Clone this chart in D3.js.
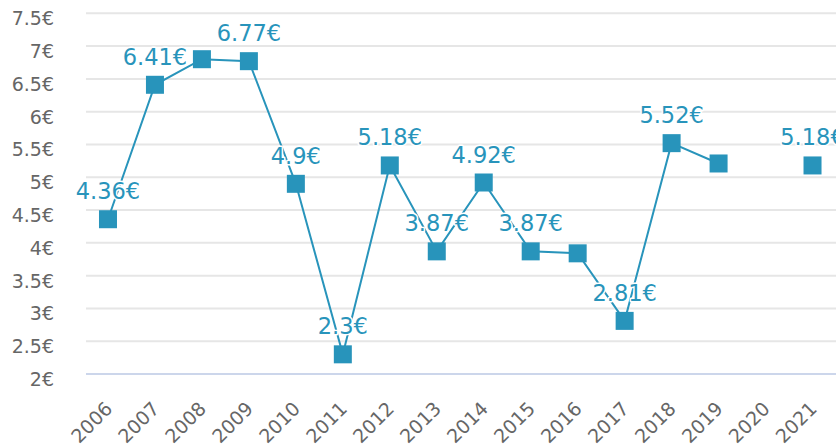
<!DOCTYPE html>
<html>
<head>
<meta charset="utf-8">
<script src="https://cdn.jsdelivr.net/npm/d3@7"></script>
<style>
  html, body { margin: 0; padding: 0; background: #fff; }
  svg { display: block; font-family: "DejaVu Sans", Verdana, sans-serif; }
</style>
</head>
<body>
<svg id="chart" width="836" height="446"></svg>
<script>
// Yearly price, euros (no value recorded for 2020)
const years = ["2006","2007","2008","2009","2010","2011","2012","2013",
               "2014","2015","2016","2017","2018","2019","2020","2021"];
const prices = [4.36, 6.41, 6.80, 6.77, 4.9, 2.3, 5.18, 3.87,
                4.92, 3.87, 3.84, 2.81, 5.52, 5.21, null, 5.18];
const yTicks = [2, 2.5, 3, 3.5, 4, 4.5, 5, 5.5, 6, 6.5, 7, 7.5];

const plot = { left: 84.5, right: 836, top: 13.3, bottom: 374 };
const color = "#2894bb";

const svg = d3.select("#chart");

const x = d3.scaleBand().domain(years).range([plot.left, plot.right]);
const y = d3.scaleLinear().domain([2, 7.5]).range([plot.bottom, plot.top]);
const cx = d => x(d) + x.bandwidth() / 2;

// horizontal grid
svg.append("g")
  .selectAll("line")
  .data(yTicks.filter(t => t !== 2))
  .join("line")
  .attr("x1", plot.left + 1.5).attr("x2", plot.right)
  .attr("y1", d => y(d)).attr("y2", d => y(d))
  .attr("stroke", "#e6e6e6").attr("stroke-width", 2);

// x axis baseline
svg.append("line")
  .attr("x1", plot.left + 1.5).attr("x2", plot.right)
  .attr("y1", y(2)).attr("y2", y(2))
  .attr("stroke", "#ccd6eb").attr("stroke-width", 2);

// y axis labels
svg.append("g")
  .selectAll("text")
  .data(yTicks)
  .join("text")
  .attr("x", 54)
  .attr("y", d => y(d) + 12)
  .attr("text-anchor", "end")
  .attr("font-size", 19)
  .attr("fill", "#666666")
  .text(d => d + "€");

// x axis labels, rotated
svg.append("g")
  .selectAll("text")
  .data(years)
  .join("text")
  .attr("transform", d => `translate(${cx(d) + 5.5},${410}) rotate(-45)`)
  .attr("text-anchor", "end")
  .attr("font-size", 19)
  .attr("fill", "#666666")
  .text(d => d);

const pts = years.map((yr, i) => ({ yr, v: prices[i] }));

// price line, broken where a year has no value
const line = d3.line()
  .defined(d => d.v !== null)
  .x(d => cx(d.yr))
  .y(d => y(d.v));

svg.append("path")
  .datum(pts)
  .attr("d", line)
  .attr("fill", "none")
  .attr("stroke", color)
  .attr("stroke-width", 2);

// square markers
const ms = 18;
svg.append("g")
  .selectAll("rect")
  .data(pts.filter(d => d.v !== null))
  .join("rect")
  .attr("x", d => cx(d.yr) - ms / 2)
  .attr("y", d => y(d.v) - ms / 2)
  .attr("width", ms).attr("height", ms)
  .attr("fill", color);

// value labels; a label that would collide with one already placed is skipped
const labelG = svg.append("g");
const placed = [];
const pad = 3;
pts.filter(d => d.v !== null).forEach(d => {
  const t = labelG.append("text")
    .attr("x", cx(d.yr))
    .attr("y", y(d.v) - 20)
    .attr("text-anchor", "middle")
    .attr("font-size", 22.5)
    .attr("fill", color)
    .attr("stroke", "#fff")
    .attr("stroke-width", 3)
    .attr("stroke-linejoin", "round")
    .attr("paint-order", "stroke")
    .text(d.v + "€");
  const b = t.node().getBBox();
  const box = { x0: b.x - pad, x1: b.x + b.width + pad, y0: b.y, y1: b.y + b.height };
  const hit = placed.some(p => box.x0 < p.x1 && box.x1 > p.x0 && box.y0 < p.y1 && box.y1 > p.y0);
  if (hit) t.remove(); else placed.push(box);
});
</script>
</body>
</html>
